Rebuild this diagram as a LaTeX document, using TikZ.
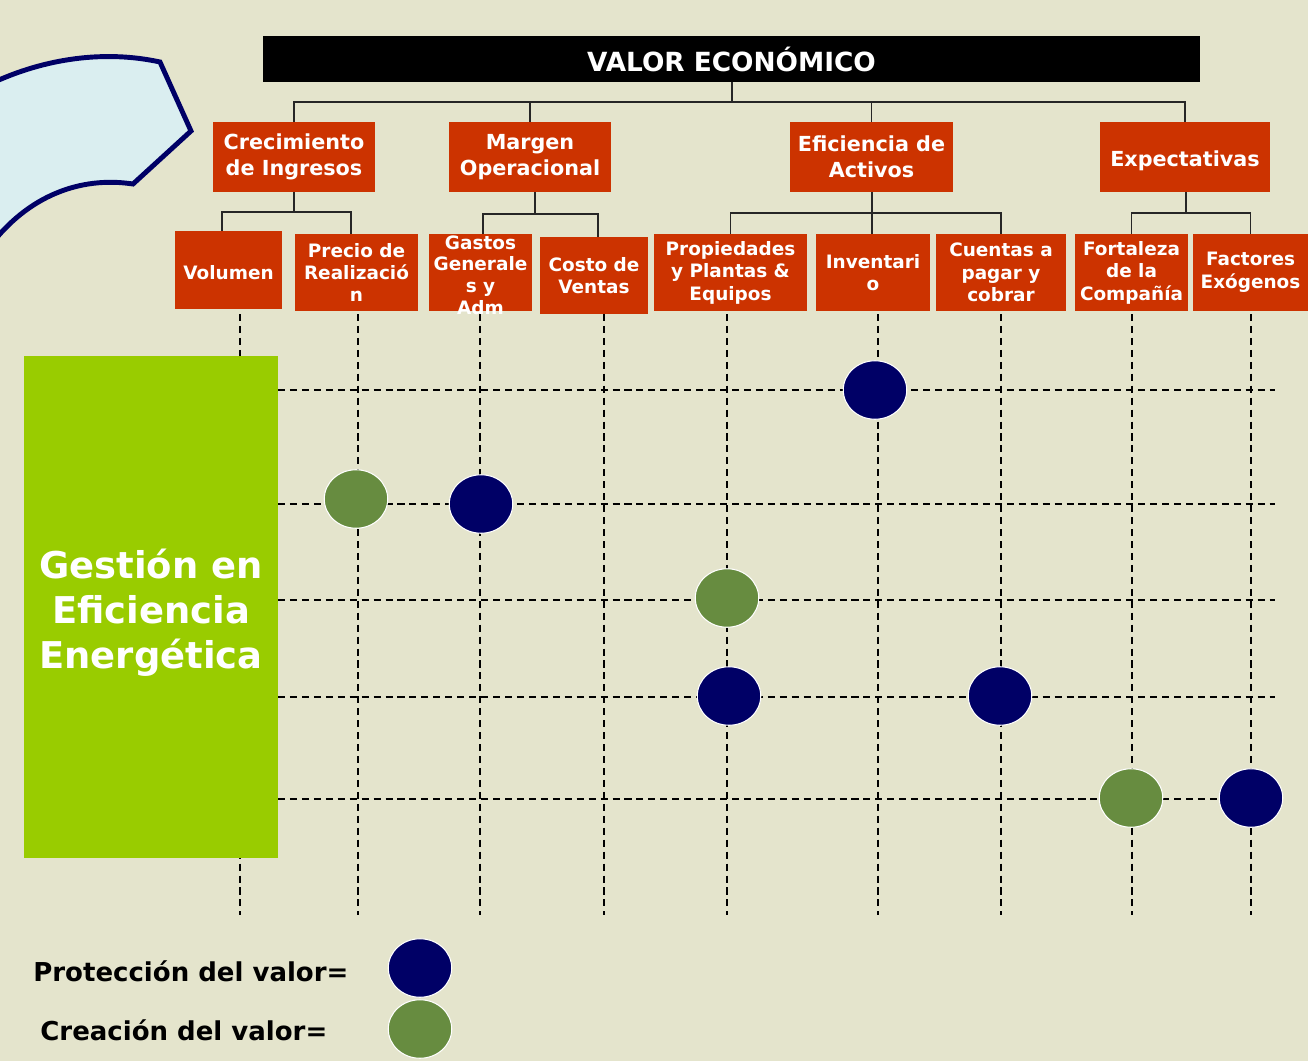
\documentclass[tikz,border=0pt]{standalone}
\usepackage{fontspec}
\setmainfont{DejaVu Sans}
\usepackage{tikz}
\usetikzlibrary{shapes.geometric}

\definecolor{fondo}{RGB}{228,228,204}
\definecolor{rojo}{RGB}{204,51,0}
\definecolor{azul}{RGB}{0,0,102}
\definecolor{verde}{RGB}{103,140,64}
\definecolor{lima}{RGB}{153,204,0}
\definecolor{celeste}{RGB}{218,238,240}

\tikzset{
  nivelA/.style={fill=rojo, text=white, inner sep=0pt, align=center, minimum height=1.4cm, font=\bfseries\fontsize{11.8}{14.6}\selectfont, execute at begin node={\rule{0pt}{13pt}}},
  nivelB/.style={fill=rojo, text=white, inner sep=0pt, align=center, minimum height=1.54cm, font=\bfseries\fontsize{10.5}{12.8}\selectfont, execute at begin node={\rule{0pt}{11.5pt}}},
  rama/.style={draw=black!85, line width=0.8pt},
  rejilla/.style={black, line width=1.1pt, dash pattern=on 4pt off 2.8pt},
  punto/.style={ellipse, draw=white, line width=0.6pt, minimum width=1.27cm, minimum height=1.17cm, inner sep=0pt},
  proteccion/.style={punto, fill=azul},
  creacion/.style={punto, fill=verde}
}

\begin{document}
\begin{tikzpicture}[x=0.02cm, y=-0.02cm]
	\fill[fondo] (0,0) rectangle (1308,1061);
	\useasboundingbox (0,0) rectangle (1308,1061);

	% flecha curva
	\draw[azul, fill=celeste, line width=2.8pt, line join=miter] (-10,84) .. controls (45,58) and (105,50) .. (160,62) -- (191,131) -- (133,184) .. controls (80,176) and (28,196) .. (-10,246);

	% rejilla
	\foreach \gx in {240,358,480,604,727,878,1001,1132,1251}
		\draw[rejilla] (\gx,314) -- (\gx,915);
	\foreach \gy in {390,504,600,697,799}
		\draw[rejilla] (278,\gy) -- (1275,\gy);

	\node[fill=lima, text=white, inner sep=0pt, minimum width=5.08cm, minimum height=10.04cm, align=center, font=\bfseries\fontsize{21}{25.5}\selectfont] (gestion) at (151,607) {};
	\node[text=white, inner sep=0pt, align=center, font=\bfseries\fontsize{21}{25.5}\selectfont] (titgestion) at (151,613) {Gestión en\\Eficiencia\\Energética};

	\node[proteccion] (p1) at (875,390) {};
	\node[creacion] (c1) at (356,499) {};
	\node[proteccion] (p2) at (481,504) {};
	\node[creacion] (c2) at (727,598) {};
	\node[proteccion] (p3) at (729,696) {};
	\node[proteccion] (p4) at (1000,696) {};
	\node[creacion] (c3) at (1131,798) {};
	\node[proteccion] (p5) at (1251,798) {};

	% arbol
	\node[fill=black, text=white, inner sep=0pt, minimum width=18.74cm, minimum height=0.92cm, font=\bfseries\fontsize{15}{18}\selectfont] (valor) at (731.5,59) {VALOR ECONÓMICO};

	\node[nivelA, minimum width=3.24cm] (crec) at (294,157) {Crecimiento\\de Ingresos};
	\node[nivelA, minimum width=3.24cm] (marg) at (530,157) {Margen\\Operacional};
	\node[nivelA, minimum width=3.26cm] (efic) at (871.5,157) {Eficiencia de\\Activos};
	\node[nivelA, minimum width=3.4cm] (expe) at (1185,157) {Expectativas};

	\node[nivelB, minimum width=2.14cm, minimum height=1.56cm] (vol) at (228.5,270) {Volumen};
	\node[nivelB, minimum width=2.46cm] (prec) at (356.5,272.5) {Precio de\\Realizació\\n};
	\node[nivelB, minimum width=2.06cm] (gast) at (480.5,272.5) {};
	\node[text=white, inner sep=0pt, align=center, font=\bfseries\fontsize{10.5}{12.4}\selectfont] (tgast) at (480.5,275) {Gastos\\Generale\\s y\\Adm};
	\node[nivelB, minimum width=2.16cm] (cost) at (594,275.5) {Costo de\\Ventas};
	\node[nivelB, minimum width=3.06cm] (prop) at (730.5,272.5) {Propiedades\\y Plantas \&\\Equipos};
	\node[nivelB, minimum width=2.28cm] (inve) at (873,272.5) {Inventari\\o};
	\node[nivelB, minimum width=2.6cm] (cuen) at (1001,272.5) {Cuentas a\\pagar y\\cobrar};
	\node[nivelB, minimum width=2.26cm] (fort) at (1131.5,272.5) {Fortaleza\\de la\\Compañía};
	\node[nivelB, minimum width=2.3cm] (fact) at (1250.5,272.5) {Factores\\Exógenos};

	\coordinate (hub) at (732,102);
	\draw[rama] (valor.south -| hub) -- (hub);
	\draw[rama] (crec.north) |- (expe.north |- hub) -- (expe.north);
	\draw[rama] (marg.north) -- (marg.north |- hub);
	\draw[rama] (efic.north) -- (efic.north |- hub);

	\coordinate (jcrec) at (294,212);
	\draw[rama] (crec.south) -- (jcrec);
	\draw[rama] (vol.north -| 222,0) |- (jcrec) -| (prec.north -| 351,0);

	\coordinate (jmarg) at (535,214);
	\draw[rama] (marg.south -| jmarg) -- (jmarg);
	\draw[rama] (gast.north -| 483,0) |- (jmarg) -| (cost.north -| 598,0);

	\coordinate (jefic) at (872,213);
	\draw[rama] (efic.south -| jefic) -- (inve.north -| jefic);
	\draw[rama] (prop.north) |- (jefic) -| (cuen.north);

	\coordinate (jexpe) at (1186,213);
	\draw[rama] (expe.south -| jexpe) -- (jexpe);
	\draw[rama] (fort.north) |- (jexpe) -| (fact.north);

	% leyenda
	\node[anchor=west, inner sep=0pt, font=\bfseries\fontsize{14.8}{17}\selectfont] (lprot) at (33,971) {Protección del valor=};
	\node[proteccion] (dprot) at (420,968) {};
	\node[anchor=west, inner sep=0pt, font=\bfseries\fontsize{14.8}{17}\selectfont] (lcrea) at (40,1030) {Creación del valor=};
	\node[creacion] (dcrea) at (420,1029) {};
\end{tikzpicture}
\end{document}
